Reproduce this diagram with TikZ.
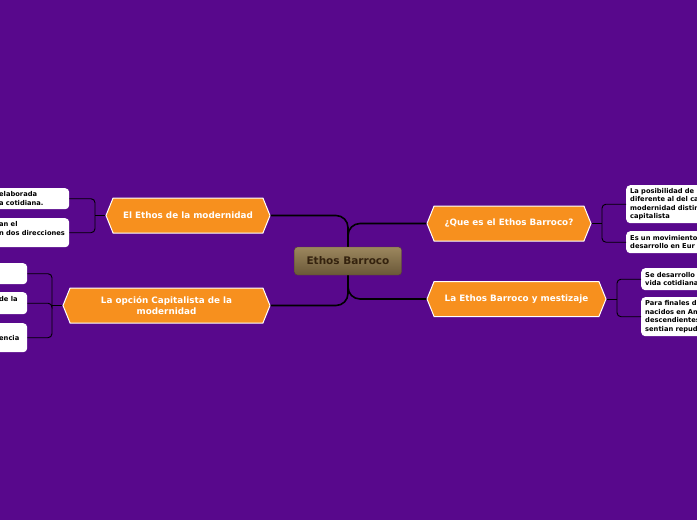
\documentclass[tikz,border=0pt]{standalone}
\usepackage{fontspec}
\setmainfont{DejaVu Sans}
\usetikzlibrary{shapes.symbols,positioning,calc}
\definecolor{bgpurple}{RGB}{88,8,140}
\definecolor{topicorange}{RGB}{247,144,30}
\definecolor{roottop}{RGB}{156,135,94}
\definecolor{rootbottom}{RGB}{106,88,56}
\definecolor{roottext}{RGB}{52,34,14}
\tikzset{
    root/.style={rectangle, rounded corners=3pt, top color=roottop, bottom color=rootbottom, draw=rootbottom!80!black, text=roottext, font=\fontsize{10.5}{12}\selectfont\bfseries, minimum width=107pt, minimum height=28pt},
    topic/.style={signal, signal to=west and east, signal pointer angle=136, fill=topicorange, draw=white, line width=1pt, text=white, font=\fontsize{8.8}{11}\selectfont\bfseries, minimum height=35pt, align=center, inner sep=2pt},
    leaf/.style={rectangle, rounded corners=4pt, fill=white, text=black, font=\fontsize{6.7}{8.5}\selectfont\bfseries, align=left, inner xsep=4pt, inner ysep=2pt},
    link/.style={draw=black, line width=1.6pt, rounded corners=12pt}
}

\begin{document}
\begin{tikzpicture}[
    x=1pt, y=-1pt,
    twig/.style={draw=black, line width=0.9pt, rounded corners=4pt}
]
\useasboundingbox (0,0) rectangle (697,520);
\fill[bgpurple] (0,0) rectangle (697,520);
\clip (0,0) rectangle (697,520);

% Topics
\node[topic, minimum width=164pt] (modern) at (188,215.5) {El Ethos de la modernidad};
\node[topic, minimum width=207pt] (capital) at (166.5,305.5) {La opción Capitalista de la\\modernidad};
\node[topic, minimum width=164pt] (que) at (509,223.5) {¿Que es el Ethos Barroco?};
\node[topic, minimum width=179pt] (mestizo) at (516.5,299) {La Ethos Barroco y mestizaje};

% Leaves
\node[leaf, anchor=north west, text width=66pt, minimum height=21pt] (mod1) at (-5,188) {elaborada\\a cotidiana.};
\node[leaf, anchor=north west, text width=66pt, minimum height=29pt] (mod2) at (-5,218) {an el\\n dos direcciones\\\mbox{}};
\node[leaf, anchor=north west, text width=24pt, minimum height=21pt] (cap1) at (-5,263) {};
\node[leaf, anchor=north west, text width=24pt, minimum height=22pt] (cap2) at (-5,292) {de la\\\mbox{}};
\node[leaf, anchor=north west, text width=24pt, minimum height=29pt] (cap3) at (-5,323) {encia};
\node[leaf, anchor=north west, text width=100pt, minimum height=38pt] (que1) at (626,185) {La posibilidad de\\diferente al del ca\\modernidad distin\\capitalista};
\node[leaf, anchor=north west, text width=100pt, minimum height=22pt] (que2) at (626,231) {Es un movimiento\\desarrollo en Eur};
\node[leaf, anchor=north west, text width=100pt, minimum height=22pt] (mes1) at (641,268) {Se desarrollo\\vida cotidiana};
\node[leaf, anchor=north west, text width=100pt, minimum height=39pt] (mes2) at (641,297) {Para finales d\\nacidos en Am\\descendientes\\sentian repud};

% Brackets
\coordinate (jmod) at (95,215.5);
\coordinate (jcap) at (52,305.5);
\coordinate (jque) at (602,223.5);
\coordinate (jmes) at (617,299);
\draw[twig] (modern.west) -- (jmod);
\draw[twig] (jmod) |- (mod1.east);
\draw[twig] (jmod) |- (mod2.east);
\draw[twig] (capital.west) -- (jcap);
\draw[twig] (jcap) |- (cap1.east);
\draw[twig] (jcap) |- (cap2.east);
\draw[twig] (jcap) |- (cap3.east);
\draw[twig] (que.east) -- (jque);
\draw[twig] (jque) |- (que1.west);
\draw[twig] (jque) |- (que2.west);
\draw[twig] (mestizo.east) -- (jmes);
\draw[twig] (jmes) |- (mes1.west);
\draw[twig] (jmes) |- (mes2.west);

% Trunk
\coordinate (hub) at (348,261);
\draw[link] (hub) |- (modern.east);
\draw[link] (hub) |- (capital.east);
\draw[link] (hub) |- (que.west);
\draw[link] (hub) |- (mestizo.west);

% Central topic
\node[root] (ethos) at (hub) {Ethos Barroco};

\end{tikzpicture}
\end{document}
